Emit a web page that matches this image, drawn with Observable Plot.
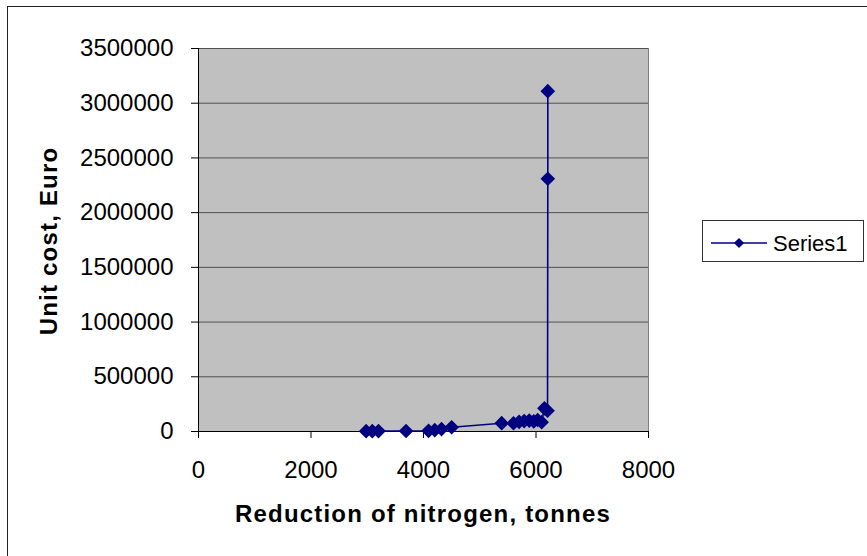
<!DOCTYPE html>
<html>
<head>
<meta charset="utf-8">
<script src="https://cdn.jsdelivr.net/npm/d3@7"></script>
<script src="https://cdn.jsdelivr.net/npm/@observablehq/plot@0.6"></script>
<style>
  html, body { margin: 0; padding: 0; background: #fff; }
  #wrap { position: relative; width: 867px; height: 556px; overflow: hidden; background: #fff;
          font-family: "Liberation Sans", Arial, sans-serif; }
  #border { position: absolute; left: 7px; top: 6px; width: 900px; height: 600px;
            border: 1.5px solid #222; box-sizing: border-box; pointer-events: none; }
  #legend { position: absolute; left: 702px; top: 220px; width: 162px; height: 42px;
            border: 1px solid #333; box-sizing: border-box; background: #fff; }
  #chart { position: absolute; left: 0; top: 0; }
</style>
</head>
<body>
<div id="wrap">
  <div id="chart"></div>
  <div id="border"></div>
  <div id="legend"></div>
</div>
<script>
// Reduction of nitrogen (tonnes)
const reduction = [2980, 3090, 3200, 3690, 4090, 4200, 4320, 4500, 5390, 5600, 5700, 5790, 5880, 5960, 6030, 6100, 6150, 6205, 6210, 6210];
// Unit cost (Euro)
const unitCost = [3000, 3000, 4000, 5000, 6000, 12000, 22000, 39000, 76000, 75000, 88000, 95000, 100000, 92000, 105000, 85000, 212000, 190000, 2310000, 3110000];
const seriesName = "Series1";
const xTicks = [0, 2000, 4000, 6000, 8000];
const yTicks = [0, 500000, 1000000, 1500000, 2000000, 2500000, 3000000, 3500000];
const xTitle = "Reduction of nitrogen, tonnes";
const yTitle = "Unit cost, Euro";

const data = reduction.map((x, i) => ({x, y: unitCost[i]}));
const navy = "#000080";

const chart = Plot.plot({
  width: 867,
  height: 556,
  marginLeft: 198,
  marginRight: 219,
  marginTop: 48,
  marginBottom: 125,
  style: {fontFamily: "'Liberation Sans', Arial, sans-serif", background: "transparent"},
  x: {domain: [0, 8000]},
  y: {domain: [0, 3500000]},
  marks: [
    Plot.frame({fill: "#c0c0c0", stroke: "#808080"}),
    Plot.gridY(yTicks, {stroke: "#505050", strokeOpacity: 1, strokeWidth: 1}),
    Plot.ruleX([0], {stroke: "#000"}),
    Plot.ruleY([0], {stroke: "#000"}),
    Plot.axisX(xTicks, {tickSize: 7, tickPadding: 22, fontSize: 24, tickFormat: d => String(d), label: null}),
    Plot.axisY(yTicks, {tickSize: 7, tickPadding: 18, fontSize: 24, tickFormat: d => String(d), label: null}),
    Plot.line(data, {x: "x", y: "y", stroke: navy, strokeWidth: 1.6}),
    Plot.dot(data, {x: "x", y: "y", symbol: "diamond2", r: 6.6, fill: navy, stroke: "none"})
  ]
});

const svg = d3.select(chart);
svg.append("text")
  .attr("x", 423).attr("y", 522)
  .attr("text-anchor", "middle")
  .attr("font-weight", "bold")
  .attr("font-size", 24)
  .attr("letter-spacing", "1.2px")
  .attr("fill", "#000")
  .text(xTitle);
svg.append("text")
  .attr("transform", "translate(57,241) rotate(-90)")
  .attr("text-anchor", "middle")
  .attr("font-weight", "bold")
  .attr("font-size", 24)
  .attr("letter-spacing", "1.2px")
  .attr("fill", "#000")
  .text(yTitle);

document.getElementById("chart").appendChild(chart);

// legend
const lg = d3.select("#legend").append("svg").attr("width", 160).attr("height", 40)
  .style("position", "absolute").style("left", "0px").style("top", "0px");
lg.append("line").attr("x1", 8).attr("x2", 64).attr("y1", 22).attr("y2", 22)
  .attr("stroke", navy).attr("stroke-width", 1.5);
lg.append("path").attr("d", d3.symbol(d3.symbolDiamond2, Math.PI * 4.6 * 4.6)())
  .attr("transform", "translate(36,22)").attr("fill", navy);
lg.append("text").attr("x", 70).attr("y", 30)
  .attr("font-size", 22).attr("font-family", "'Liberation Sans', Arial, sans-serif")
  .attr("fill", "#000").text(seriesName);
</script>
</body>
</html>
